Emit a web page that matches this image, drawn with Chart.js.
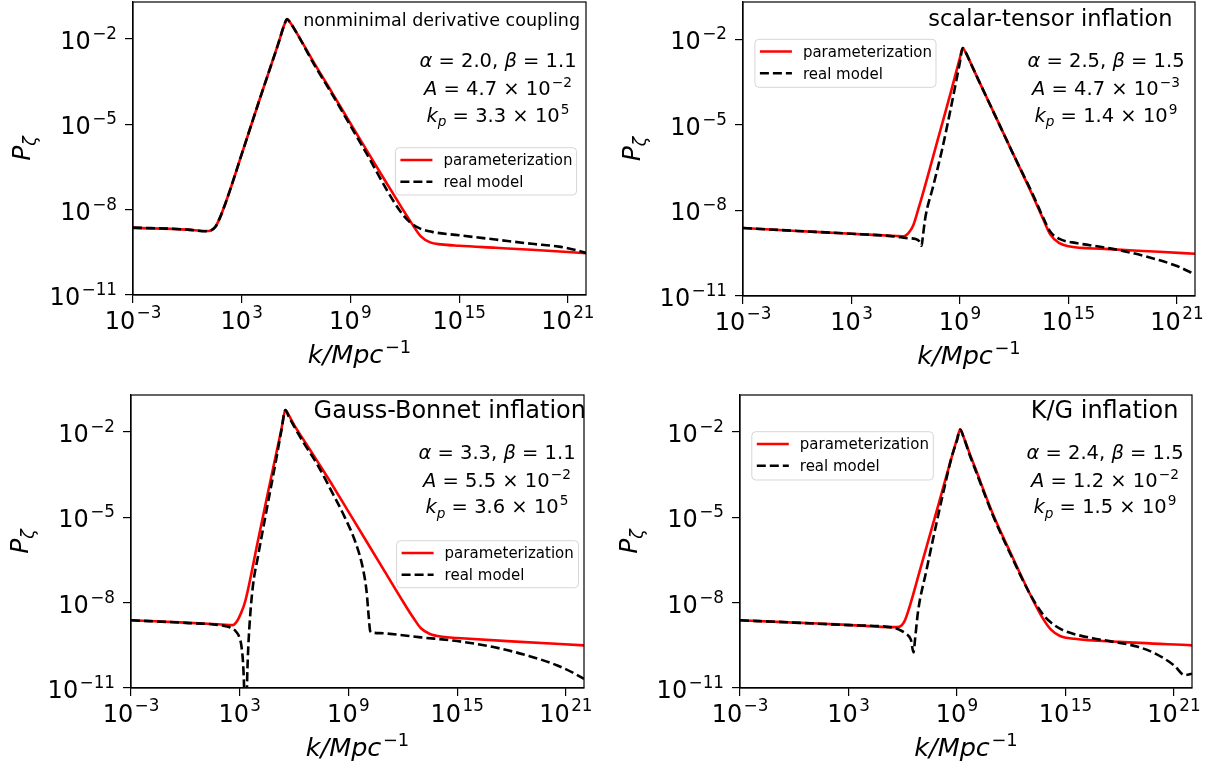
<!DOCTYPE html>
<html>
<head>
<meta charset="utf-8">
<script src="https://cdn.jsdelivr.net/npm/chart.js@4.4.1/dist/chart.umd.min.js"></script>
<style>
  html, body { margin: 0; padding: 0; background: #fff; }
  #wrap { position: relative; width: 1215px; height: 769px; overflow: hidden; background: #fff; }
  canvas { position: absolute; }
</style>
</head>
<body>
<div id="wrap">
  <canvas id="tl" width="600" height="384" style="left:0px;top:0px;width:600px;height:384px"></canvas>
  <canvas id="tr" width="605" height="384" style="left:610px;top:0px;width:605px;height:384px"></canvas>
  <canvas id="bl" width="600" height="381" style="left:0px;top:388px;width:600px;height:381px"></canvas>
  <canvas id="br" width="605" height="381" style="left:610px;top:388px;width:605px;height:381px"></canvas>
</div>
<script>
// ---------------- DATA (log10 k, log10 P_zeta) ----------------
const xTickExps = [-3, 3, 9, 15, 21];
const yTickExps = [-11, -8, -5, -2];
const seriesNames = ['parameterization', 'real model'];

// nonminimal derivative coupling
const tlRedLogK = [-3, 0, 1, 1.3, 1.55, 1.8, 2.2, 3, 4, 5, 5.35, 5.5, 5.65, 6, 7, 8, 9, 10, 11, 11.8, 12.4, 12.9, 13.4, 14, 15, 17, 19, 22];
const tlRedLogP = [-8.64, -8.70, -8.75, -8.73, -8.6, -8.28, -7.6, -6.05, -4.1, -2.2, -1.5, -1.31, -1.4, -1.75, -2.85, -3.9, -4.97, -6.02, -7.07, -7.9, -8.5, -8.95, -9.15, -9.22, -9.27, -9.34, -9.41, -9.53];
const tlBlackLogK = [-3, 0, 1, 1.3, 1.55, 1.8, 2.2, 3, 4, 5, 5.35, 5.5, 5.65, 6, 7, 8, 9, 10, 11, 11.8, 12.3, 12.8, 13.5, 15, 17, 19, 20.5, 21.3, 22];
const tlBlackLogP = [-8.63, -8.70, -8.76, -8.73, -8.6, -8.28, -7.6, -6.05, -4.1, -2.2, -1.5, -1.30, -1.4, -1.75, -2.9, -3.95, -5.05, -6.15, -7.3, -8.1, -8.45, -8.65, -8.78, -8.9, -9.05, -9.2, -9.3, -9.4, -9.52];

// scalar-tensor inflation
const trRedLogK = [-3, 0, 3, 5.5, 5.9, 6.15, 6.4, 6.7, 7, 7.5, 8, 8.5, 9, 9.15, 9.3, 9.6, 10, 11, 12, 13, 13.6, 14, 14.5, 15, 17, 20, 22];
const trRedLogP = [-8.62, -8.72, -8.82, -8.9, -8.91, -8.8, -8.55, -7.95, -7.3, -6.15, -5.0, -3.85, -2.65, -2.31, -2.45, -2.85, -3.4, -4.75, -6.1, -7.45, -8.3, -8.85, -9.15, -9.26, -9.35, -9.45, -9.52];
const trBlackLogK = [-3, 0, 3, 5.5, 6, 6.55, 6.75, 6.88, 6.95, 7.1, 7.5, 8, 8.5, 9, 9.15, 9.3, 9.6, 10, 11, 12, 13, 13.6, 14, 14.5, 15.5, 17, 18, 19.5, 21, 22];
const trBlackLogP = [-8.62, -8.72, -8.82, -8.92, -8.97, -9.0, -9.08, -9.24, -8.9, -8.2, -7.2, -5.9, -4.4, -2.8, -2.31, -2.45, -2.85, -3.4, -4.75, -6.1, -7.4, -8.25, -8.75, -9.0, -9.15, -9.3, -9.42, -9.65, -9.95, -10.24];

// Gauss-Bonnet inflation
const blRedLogK = [-3, 0, 2, 2.6, 2.85, 3.05, 3.3, 4, 4.5, 5, 5.3, 5.52, 5.7, 6, 6.5, 7.3, 8, 9, 10, 11, 12, 12.6, 13, 13.5, 14.2, 15, 18, 22];
const blRedLogP = [-8.62, -8.70, -8.77, -8.79, -8.65, -8.4, -7.96, -5.84, -4.3, -2.8, -1.9, -1.23, -1.4, -1.75, -2.25, -3.04, -3.75, -4.8, -5.85, -6.9, -7.95, -8.55, -8.9, -9.1, -9.2, -9.24, -9.36, -9.5];
const blBlackLogK = [-3, 0, 2, 2.5, 2.8, 3.0, 3.1, 3.2, 3.25, 3.3, 3.36, 3.4, 3.45, 3.55, 3.73, 4.0, 4.57, 5.0, 5.3, 5.52, 5.7, 6, 6.5, 7.3, 8, 8.8, 9.4, 9.8, 10.0, 10.12, 10.2, 10.3, 11, 13, 15, 17, 19, 20.5, 21.5, 22];
const blBlackLogP = [-8.62, -8.71, -8.8, -8.88, -9.02, -9.25, -9.55, -10.3, -11.2, -13, -13, -11.0, -9.9, -8.7, -7.4, -6.4, -4.45, -3.0, -1.95, -1.23, -1.45, -1.8, -2.35, -3.16, -4.0, -5.0, -5.9, -6.8, -7.6, -8.5, -9.0, -9.05, -9.08, -9.22, -9.35, -9.56, -9.88, -10.2, -10.5, -10.68];

// K/G inflation
const brRedLogK = [-3, 0, 3, 5.5, 5.8, 6.1, 6.4, 7, 8, 8.7, 9.0, 9.18, 9.35, 9.7, 10, 11, 12, 13, 13.7, 14.2, 14.7, 15.5, 18, 22];
const brRedLogP = [-8.62, -8.7, -8.78, -8.86, -8.85, -8.65, -8.1, -6.75, -4.5, -2.9, -2.25, -1.91, -2.15, -2.75, -3.25, -4.9, -6.3, -7.65, -8.5, -8.95, -9.17, -9.27, -9.38, -9.5];
const brBlackLogK = [-3, 0, 3, 5.5, 5.8, 6.2, 6.45, 6.6, 6.68, 6.85, 7.3, 7.8, 8.2, 8.7, 9.0, 9.18, 9.35, 9.7, 10, 11, 12, 13, 13.8, 14.2, 14.8, 15.3, 16.5, 17.5, 19, 20, 21, 21.6, 22];
const brBlackLogP = [-8.62, -8.7, -8.79, -8.88, -8.95, -9.1, -9.3, -9.75, -9.3, -8.3, -6.9, -5.4, -4.25, -2.9, -2.3, -1.91, -2.15, -2.8, -3.3, -4.95, -6.35, -7.65, -8.45, -8.7, -8.95, -9.07, -9.25, -9.36, -9.55, -9.8, -10.2, -10.55, -10.5];

// text content
const titles = {
  tl: 'nonminimal derivative coupling',
  tr: 'scalar-tensor inflation',
  bl: 'Gauss-Bonnet inflation',
  br: 'K/G inflation'
};
const params = {
  tl: { alpha: '2.0', beta: '1.1', A: '4.7', Aexp: '−2', kp: '3.3', kpexp: '5' },
  tr: { alpha: '2.5', beta: '1.5', A: '4.7', Aexp: '−3', kp: '1.4', kpexp: '9' },
  bl: { alpha: '3.3', beta: '1.1', A: '5.5', Aexp: '−2', kp: '3.6', kpexp: '5' },
  br: { alpha: '2.4', beta: '1.5', A: '1.2', Aexp: '−2', kp: '1.5', kpexp: '9' }
};

// ---------------- LAYOUT / STYLE ----------------
const FONT = '"DejaVu Sans", "Liberation Sans", sans-serif';
const TICK_SIZE = 24;
const layoutCfg = {
  tl: { pad: {left: 0, top: 2, right: 14, bottom: 4}, yW: 133, xH: 85, titleX: 447, titleY: 24, titleSize: 17.5,
        parX: 365, parY: [64.7, 93, 119.7], leg: {x: 262.4, y: 145.7, w: 181.2, h: 47.3} },
  tr: { pad: {left: 0, top: 2, right: 20, bottom: 3}, yW: 133, xH: 85, titleX: 429.5, titleY: 24, titleSize: 22.5,
        parX: 363, parY: [64.7, 93, 119.7], leg: {x: 11.9, y: 37.3, w: 181.1, h: 48} },
  bl: { pad: {left: 0, top: 7, right: 16, bottom: 3}, yW: 131, xH: 78, titleX: 455, titleY: 22.7, titleSize: 24,
        parX: 366, parY: [64, 91.7, 118.3], leg: {x: 265.6, y: 145.7, w: 181.9, h: 47} },
  br: { pad: {left: 0, top: 7, right: 23, bottom: 3}, yW: 130, xH: 78, titleX: 438.4, titleY: 22.7, titleSize: 24,
        parX: 365, parY: [64, 91.7, 118.3], leg: {x: 11.8, y: 36.7, w: 181.5, h: 48.3} }
};

function expOf(v) { return Math.round(Math.log10(v)); }
function toPts(logK, logP) {
  return logK.map((lk, i) => ({ x: Math.pow(10, lk), y: Math.pow(10, logP[i]) }));
}

// mathtext-like rich text: segments [text, style]; style 'n' normal, 'i' italic, 'sup', 'sub', 'subi'
function drawRich(ctx, segs, x, y, size, align) {
  let total = 0;
  const items = segs.map(([t, s]) => {
    const italic = s.indexOf('i') >= 0;
    const isSup = s.indexOf('sup') === 0, isSub = s.indexOf('sub') === 0;
    const fs = (isSup || isSub) ? size * 0.7 : size;
    const font = (italic ? 'italic ' : '') + fs + 'px ' + FONT;
    ctx.font = font;
    const gap = isSup ? size * 0.06 : 0;
    const w = ctx.measureText(t).width;
    const dy = isSup ? -size * 0.42 : (isSub ? size * 0.22 : 0);
    total += w + gap;
    return { t, font, w, dy, gap };
  });
  let cx = align === 'center' ? x - total / 2 : (align === 'right' ? x - total : x);
  ctx.textAlign = 'left';
  ctx.textBaseline = 'alphabetic';
  for (const it of items) {
    ctx.font = it.font;
    cx += it.gap;
    ctx.fillText(it.t, cx, y + it.dy);
    cx += it.w;
  }
}
function powSegs(v) {
  return [['10', 'n'], [String(expOf(v)).replace('-', '−'), 'sup']];
}

const decoPlugin = {
  id: 'deco',
  afterDraw(chart) {
    const id = chart.canvas.id;
    const L = layoutCfg[id], P = params[id];
    const ctx = chart.ctx, a = chart.chartArea;
    ctx.save();
    // full frame (matplotlib spines)
    ctx.strokeStyle = '#000';
    ctx.lineWidth = 1.2;
    ctx.strokeRect(a.left, a.top, a.right - a.left, a.bottom - a.top);
    ctx.fillStyle = '#000';
    // tick labels at the library's tick positions
    const xs = chart.scales.x, ys = chart.scales.y;
    xs.ticks.forEach(t => {
      drawRich(ctx, powSegs(t.value), xs.getPixelForValue(t.value), a.bottom + 33.5, TICK_SIZE, 'center');
    });
    ys.ticks.forEach(t => {
      drawRich(ctx, powSegs(t.value), a.left - 16, ys.getPixelForValue(t.value) + 10, TICK_SIZE, 'right');
    });
    // panel title
    drawRich(ctx, [[titles[id], 'n']], a.left + L.titleX, a.top + L.titleY, L.titleSize, 'right');
    // parameters
    const ps = 19.5;
    drawRich(ctx, [['α', 'i'], [' = ' + P.alpha + ', ', 'n'], ['β', 'i'], [' = ' + P.beta, 'n']], a.left + L.parX, a.top + L.parY[0], ps, 'center');
    drawRich(ctx, [['A', 'i'], [' = ' + P.A + ' × 10', 'n'], [P.Aexp, 'sup']], a.left + L.parX, a.top + L.parY[1], ps, 'center');
    drawRich(ctx, [['k', 'i'], ['p', 'subi'], [' = ' + P.kp + ' × 10', 'n'], [P.kpexp, 'sup']], a.left + L.parX, a.top + L.parY[2], ps, 'center');
    // legend
    const lg = L.leg;
    const lx = a.left + lg.x, ly = a.top + lg.y;
    ctx.beginPath();
    ctx.roundRect(lx, ly, lg.w, lg.h, 4);
    ctx.fillStyle = 'rgba(255,255,255,0.8)';
    ctx.fill();
    ctx.strokeStyle = 'rgba(204,204,204,0.8)';
    ctx.lineWidth = 1;
    ctx.stroke();
    const rows = [ly + 12.3, ly + 34];
    ctx.lineWidth = 2.5;
    ctx.beginPath(); ctx.strokeStyle = '#ff0000'; ctx.setLineDash([]);
    ctx.moveTo(lx + 5, rows[0]); ctx.lineTo(lx + 37, rows[0]); ctx.stroke();
    ctx.beginPath(); ctx.strokeStyle = '#000'; ctx.setLineDash([9, 4]);
    ctx.moveTo(lx + 5, rows[1]); ctx.lineTo(lx + 37, rows[1]); ctx.stroke();
    ctx.setLineDash([]);
    ctx.fillStyle = '#000';
    drawRich(ctx, [[seriesNames[0], 'n']], lx + 48, rows[0] + 5.3, 15, 'left');
    drawRich(ctx, [[seriesNames[1], 'n']], lx + 48, rows[1] + 5.3, 15, 'left');
    // axis labels
    drawRich(ctx, [['k/Mpc', 'i'], ['−1', 'sup']], (a.left + a.right) / 2, a.bottom + 68.3, 25.5, 'center');
    ctx.save();
    ctx.translate(a.left - 103, (a.top + a.bottom) / 2);
    ctx.rotate(-Math.PI / 2);
    drawRich(ctx, [['P', 'i'], ['ζ', 'subi']], 0, 0, 25, 'center');
    ctx.restore();
    ctx.restore();
  }
};

function makeChart(id, redK, redP, blackK, blackP) {
  const L = layoutCfg[id];
  const gridCfg = { display: true, drawOnChartArea: false, drawTicks: true, tickLength: 8, color: '#000', lineWidth: 1.2 };
  return new Chart(document.getElementById(id), {
    type: 'line',
    data: {
      datasets: [
        { label: seriesNames[0], data: toPts(redK, redP), borderColor: '#ff0000', borderWidth: 2.6,
          pointRadius: 0, order: 1, cubicInterpolationMode: 'monotone', fill: false },
        { label: seriesNames[1], data: toPts(blackK, blackP), borderColor: '#000000', borderWidth: 2.6,
          borderDash: [9, 4], pointRadius: 0, order: 0, cubicInterpolationMode: 'monotone', fill: false }
      ]
    },
    options: {
      responsive: false, animation: false, devicePixelRatio: 1,
      layout: { padding: L.pad },
      plugins: { legend: { display: false }, tooltip: { enabled: false } },
      scales: {
        x: {
          type: 'logarithmic', min: 1e-3, max: 1e22,
          afterBuildTicks: s => { s.ticks = xTickExps.map(e => ({ value: Math.pow(10, e) })); },
          afterFit: s => { s.height = L.xH; s.paddingLeft = 0; s.paddingRight = 0; },
          ticks: { display: false, autoSkip: false },
          grid: gridCfg, border: { display: true, color: '#000', width: 1.2 }
        },
        y: {
          type: 'logarithmic', min: 1e-11, max: 0.2,
          afterBuildTicks: s => { s.ticks = yTickExps.map(e => ({ value: Math.pow(10, e) })); },
          afterFit: s => { s.width = L.yW; s.paddingTop = 0; s.paddingBottom = 0; },
          ticks: { display: false, autoSkip: false },
          grid: gridCfg, border: { display: true, color: '#000', width: 1.2 }
        }
      }
    },
    plugins: [decoPlugin]
  });
}

makeChart('tl', tlRedLogK, tlRedLogP, tlBlackLogK, tlBlackLogP);
makeChart('tr', trRedLogK, trRedLogP, trBlackLogK, trBlackLogP);
makeChart('bl', blRedLogK, blRedLogP, blBlackLogK, blBlackLogP);
makeChart('br', brRedLogK, brRedLogP, brBlackLogK, brBlackLogP);
</script>
</body>
</html>
